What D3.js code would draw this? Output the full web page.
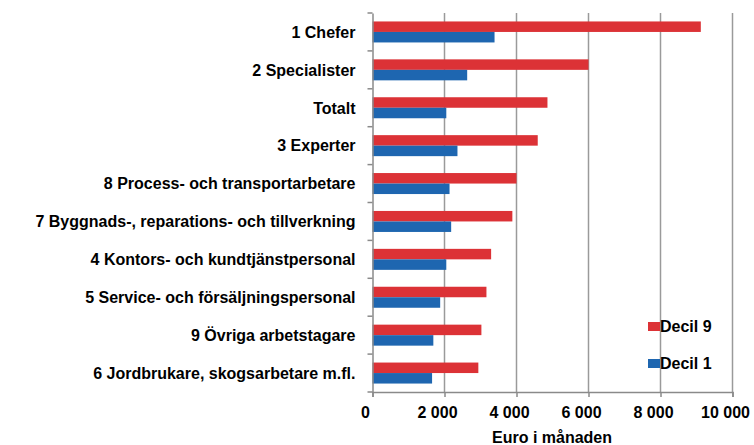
<!DOCTYPE html>
<html>
<head>
<meta charset="utf-8">
<script src="https://cdn.jsdelivr.net/npm/d3@7"></script>
<style>
  body { margin: 0; background: #fff; }
  text { font-family: Arial, "Liberation Sans", sans-serif; font-weight: bold; fill: #000; }
</style>
</head>
<body>
<div class="chart"></div>
<script>
// DATA
var categories = ['1 Chefer', '2 Specialister', 'Totalt', '3 Experter',
    '8 Process- och transportarbetare', '7 Byggnads-, reparations- och tillverkning',
    '4 Kontors- och kundtjänstpersonal', '5 Service- och försäljningspersonal',
    '9 Övriga arbetstagare', '6 Jordbrukare, skogsarbetare m.fl.']
var decil9 = [9120, 6000, 4860, 4590, 4000, 3885, 3295, 3165, 3025, 2940]
var decil1 = [3390, 2630, 2050, 2360, 2140, 2185, 2050, 1880, 1690, 1655]
var xTicks = [0, 2000, 4000, 6000, 8000, 10000]
var seriesNames = ['Decil 9', 'Decil 1']

var w = 754, h = 445
var mLeft = 372.5, mRight = 732.5, mTop = 13, mBottom = 392

var svg = d3.select('.chart').append('svg')
    .attr('width', w)
    .attr('height', h)

var x = d3.scaleLinear().domain([0, 10000]).range([mLeft, mRight])
var y = d3.scaleBand().domain(categories).range([mTop, mBottom]).paddingInner(0).paddingOuter(0)
var color = d3.scaleOrdinal().domain(seriesNames).range(['#dc3236', '#1e66b0'])

var barH = y.bandwidth() * 0.277

var fmt = function(d){ return d3.format(',')(d).replace(',', ' ') }

// GRIDLINES
svg.append('g')
    .selectAll('line')
    .data(xTicks.slice(1))
    .enter().append('line')
    .attr('x1', function(d){ return x(d) }).attr('x2', function(d){ return x(d) })
    .attr('y1', mTop).attr('y2', mBottom)
    .attr('stroke', '#9a9a9a').attr('stroke-width', 1.5)

// BARS
var rows = categories.map(function(c, i){ return {cat: c, d9: decil9[i], d1: decil1[i]} })
var barg = svg.append('g')
barg.selectAll('.r9').data(rows).enter().append('rect')
    .attr('x', x(0))
    .attr('y', function(d){ return y(d.cat) + y.bandwidth()/2 - barH })
    .attr('width', function(d){ return x(d.d9) - x(0) })
    .attr('height', barH)
    .attr('fill', color('Decil 9'))
barg.selectAll('.r1').data(rows).enter().append('rect')
    .attr('x', x(0))
    .attr('y', function(d){ return y(d.cat) + y.bandwidth()/2 })
    .attr('width', function(d){ return x(d.d1) - x(0) })
    .attr('height', barH)
    .attr('fill', color('Decil 1'))

// X AXIS
var xAxis = svg.append('g')
    .attr('transform', 'translate(0,' + mBottom + ')')
    .call(d3.axisBottom(x).tickValues(xTicks).tickFormat(fmt).tickSize(5).tickPadding(10))
xAxis.select('.domain').attr('stroke', '#8a8a8a').attr('stroke-width', 1.5)
xAxis.selectAll('.tick line').attr('stroke', '#8a8a8a').attr('stroke-width', 1.5)
xAxis.selectAll('text').style('font-size', '16px').attr('fill', '#000').attr('dx', '-7.5')

// Y AXIS
var yAxis = svg.append('g')
    .attr('transform', 'translate(' + mLeft + ',0)')
    .call(d3.axisLeft(y).tickSize(0).tickPadding(17))
yAxis.select('.domain').attr('stroke', '#8a8a8a').attr('stroke-width', 1.5)
yAxis.selectAll('text').style('font-size', '16px').attr('fill', '#000').attr('dy', '0.36em')
// category boundary ticks
svg.append('g').selectAll('line')
    .data(categories.concat(['end']))
    .enter().append('line')
    .attr('x1', mLeft - 5).attr('x2', mLeft)
    .attr('y1', function(d, i){ return mTop + i * y.bandwidth() })
    .attr('y2', function(d, i){ return mTop + i * y.bandwidth() })
    .attr('stroke', '#8a8a8a').attr('stroke-width', 1.5)

// AXIS TITLE
svg.append('text')
    .attr('x', 552).attr('y', 443)
    .attr('text-anchor', 'middle')
    .style('font-size', '16px')
    .text('Euro i månaden')

// LEGEND
var legend = svg.append('g').selectAll('g')
    .data(seriesNames)
    .enter().append('g')
    .attr('transform', function(d, i){ return 'translate(648,' + (322 + i * 37) + ')' })
legend.append('rect')
    .attr('width', 12).attr('height', 9)
    .attr('fill', function(d){ return color(d) })
legend.append('text')
    .attr('x', 12).attr('y', 10)
    .style('font-size', '16px')
    .text(function(d){ return d })
</script>
</body>
</html>
